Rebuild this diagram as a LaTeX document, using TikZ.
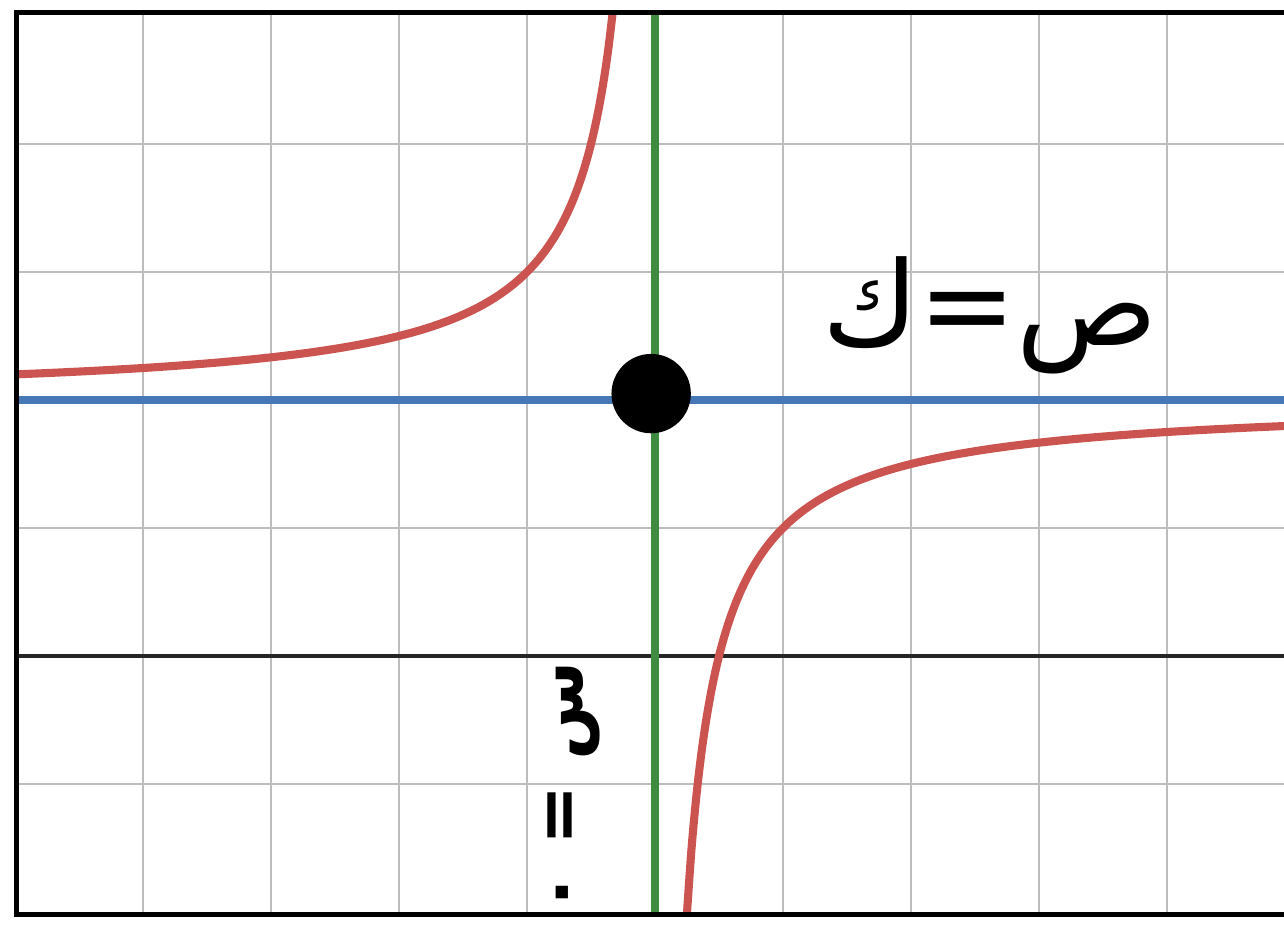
\documentclass[tikz,border=0pt]{standalone}
\usepackage{fontspec}
\newfontfamily\arabicfont[Script=Arabic]{DejaVu Sans}
\TeXXeTstate=1
\usetikzlibrary{positioning}
\definecolor{curvered}{HTML}{CC5450}
\definecolor{asymblue}{HTML}{4678B8}
\definecolor{asymgreen}{HTML}{3F8B3F}
\definecolor{gridgray}{HTML}{BDBDBD}

\begin{document}
\begin{tikzpicture}[
  x=1cm,
  y=1cm,
  gridline/.style={
    draw=gridgray,
    line width=0.5pt
  },
  frameline/.style={
    draw=black,
    line width=1.1pt
  },
  axisline/.style={
    draw=black!85,
    line width=1.1pt
  },
  hline/.style={
    draw=asymblue,
    line width=1.8pt
  },
  vline/.style={
    draw=asymgreen,
    line width=1.8pt
  },
  branch/.style={
    draw=curvered,
    line width=1.8pt,
    smooth,
    samples=120
  },
  centerdot/.style={
    circle,
    fill=black,
    minimum size=0.62cm,
    inner sep=0pt
  },
  arabiclabel/.style={
    font=\fontsize{26}{30}\selectfont\arabicfont,
    inner sep=0pt
  }
]

\useasboundingbox (-5.117,-4.094) rectangle (4.914,3.125);

% frame corners
\coordinate (topright) at (4.914,3.03);
\coordinate (topleft) at (-4.99,3.03);
\coordinate (bottomleft) at (-4.99,-4.02);
\coordinate (bottomright) at (4.914,-4.02);

% grid
\foreach \gx in {-4,...,4}
  \draw[gridline] (\gx,-4.02) -- (\gx,3.03);
\foreach \gy in {-3,-1,1,2}
  \draw[gridline] (-4.99,\gy) -- (4.914,\gy);

\draw[axisline] (-4.99,-2) -- (4.914,-2);

% asymptotes
\coordinate (hleft) at (-4.99,0);
\coordinate (hright) at (4.914,0);
\coordinate (vtop) at (0,3.03);
\coordinate (vbottom) at (0,-4.02);
\draw[hline] (hleft) -- (hright);
\draw[vline] (vtop) -- (vbottom);

% branches of the curve
\begin{scope}
  \clip (bottomleft) rectangle (topright);
  \draw[branch,domain=-4.99:-0.325] plot (\x,{-1/\x});
  \draw[branch,domain=0.245:4.914] plot (\x,{-1/\x});
\end{scope}

\draw[frameline] (topright) -- (topleft) -- (bottomleft) -- (bottomright);

\node[centerdot] (center) at (-0.03,0.05) {};

\node[arabiclabel] (hlabel) at (2.62,0.66) {\beginR ص=ك\endR};
\node[arabiclabel,rotate=90,font=\fontsize{16}{19}\selectfont\arabicfont\bfseries]
  (vlabel) at (-0.63,-3.03) {\beginR س = ٠\endR};

\end{tikzpicture}
\end{document}
